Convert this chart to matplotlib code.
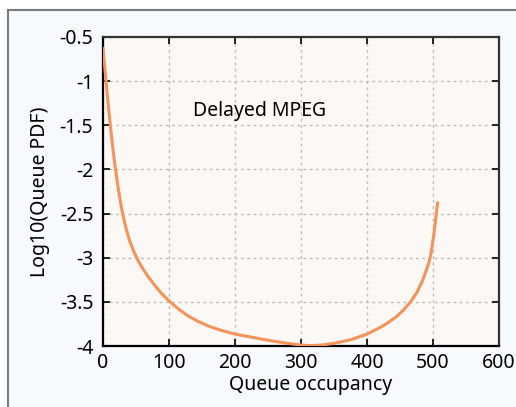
import numpy as np
import matplotlib
matplotlib.use('Agg')
from matplotlib import pyplot as plt
from matplotlib.patches import Rectangle
from matplotlib.ticker import FormatStrFormatter

plt.rcParams['font.family'] = ['Noto Sans', 'DejaVu Sans']
plt.rcParams['axes.unicode_minus'] = False

# queue occupancy vs log10 of the queue pdf (delayed MPEG source)
occupancy = [0, 2.5, 5, 7.5, 10, 13, 16, 19, 22, 26, 30, 35, 40, 46, 53, 60,
             68, 77, 87, 100, 115, 130, 145, 160, 180, 200, 225, 250, 275,
             300, 315, 330, 350, 375, 400, 420, 430, 445, 455, 466, 475, 483,
             490, 494, 497, 501, 504, 507]
log_pdf = [-0.63, -0.83, -1.03, -1.23, -1.42, -1.63, -1.83, -2.00, -2.16,
           -2.35, -2.51, -2.67, -2.80, -2.92, -3.03, -3.12, -3.21, -3.30,
           -3.39, -3.49, -3.585, -3.665, -3.725, -3.775, -3.825, -3.865,
           -3.90, -3.935, -3.965, -3.99, -3.995, -3.99, -3.97, -3.93, -3.865,
           -3.79, -3.745, -3.665, -3.595, -3.5, -3.40, -3.28, -3.14, -3.05,
           -2.95, -2.75, -2.57, -2.38]

xticks = [0, 100, 200, 300, 400, 500, 600]
yticks = [-4, -3.5, -3, -2.5, -2, -1.5, -1, -0.5]

fig = plt.figure(figsize=(5.16, 4.07), dpi=100)
fig.patch.set_facecolor('white')

# light panel with a grey border behind the plot
fig.patches.append(Rectangle((8 / 516, -0.1), 1.2, 1 - 10 / 407 + 0.1,
                             transform=fig.transFigure, facecolor='#f8f9fc',
                             edgecolor='#7a7a7a', linewidth=1.5, zorder=-10))

ax = fig.add_axes([103 / 516, 1 - 346 / 407, 396 / 516, 309 / 407])
ax.set_facecolor('#fcf8f5')

ax.plot(occupancy, log_pdf, color='#f4935a', linewidth=2.2, zorder=3,
        solid_joinstyle='round')

ax.set_xlim(0, 600)
ax.set_ylim(-4, -0.5)
ax.set_xticks(xticks)
ax.set_yticks(yticks)
ax.yaxis.set_major_formatter(FormatStrFormatter('%g'))

ax.grid(True, color='#bdbdbd', linestyle=(0, (2, 2.5)), linewidth=1.0)
ax.tick_params(direction='in', length=5, width=1.4, top=True, right=True,
               labelsize=14, colors='#222222', labelcolor='black')
ax.tick_params(axis='y', pad=7)
ax.tick_params(axis='x', pad=5)
for side in ['left', 'bottom']:
    ax.spines[side].set_linewidth(1.6)
    ax.spines[side].set_color('black')
for side in ['top', 'right']:
    ax.spines[side].set_linewidth(1.6)
    ax.spines[side].set_color('#333333')

ax.set_xlabel('Queue occupancy', fontsize=14)
ax.xaxis.set_label_coords(0.525, -0.095)
ax.set_ylabel('Log10(Queue PDF)', fontsize=14)
ax.yaxis.set_label_coords(-0.135, 0.5)

ax.text(136, -1.395, 'Delayed MPEG', fontsize=14, va='baseline', ha='left')

plt.savefig('out.png', dpi=100)
